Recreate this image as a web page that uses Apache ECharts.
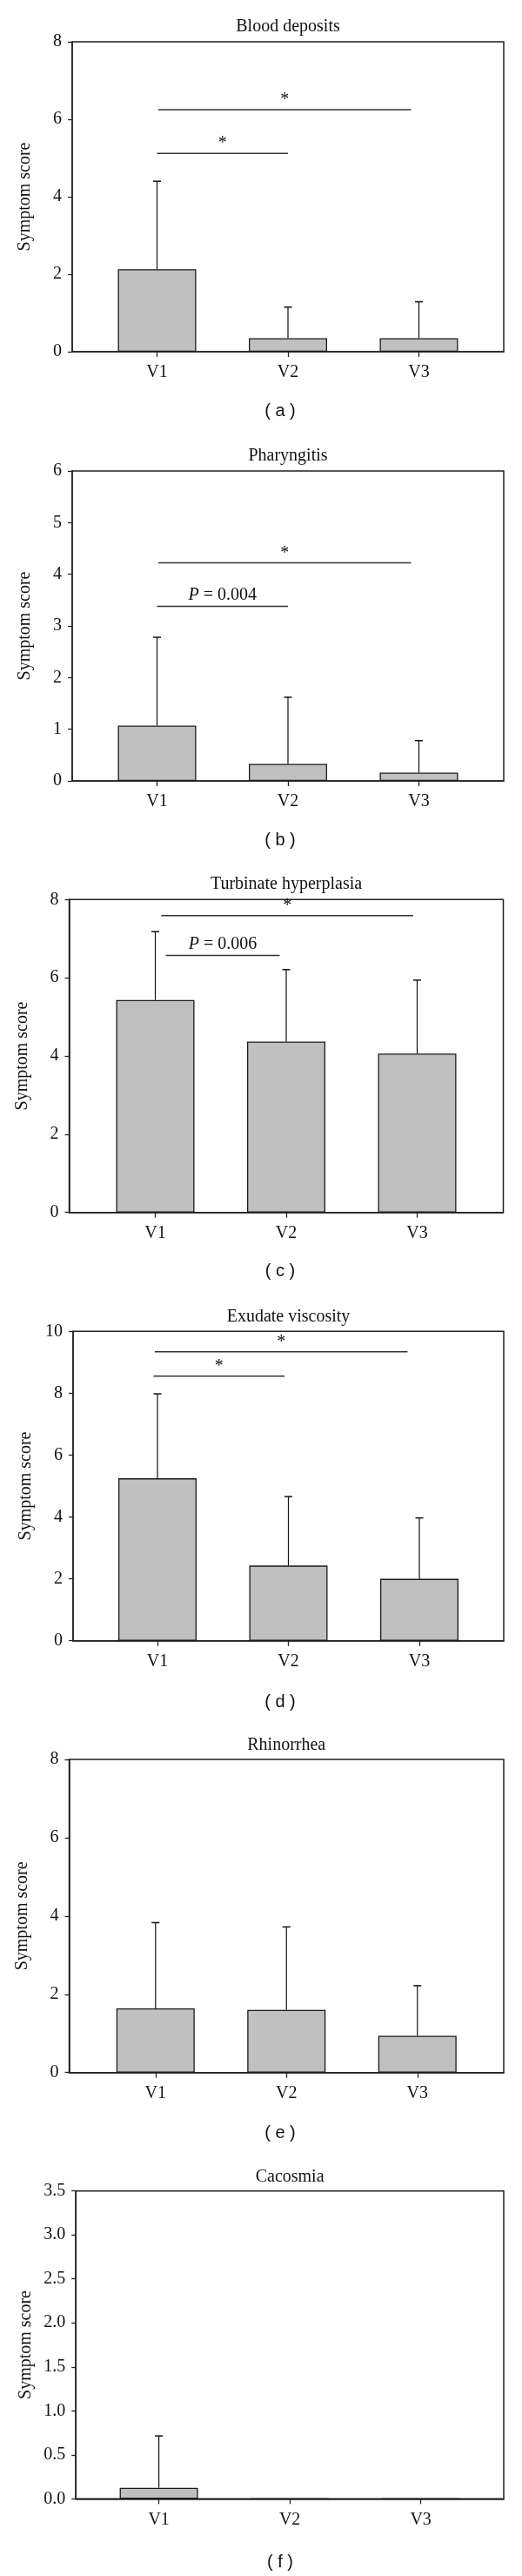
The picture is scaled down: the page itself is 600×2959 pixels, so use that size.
<!DOCTYPE html>
<html><head><meta charset="utf-8">
<script src="https://cdn.jsdelivr.net/npm/echarts@6/dist/echarts.min.js"></script>
<style>html,body{margin:0;padding:0;background:#fff}#c{width:600px;height:2959px}</style>
</head><body><div id="c"></div>
<script>
// ---------- data ----------
const categories = ['V1', 'V2', 'V3'];
const panelTitles = ['Blood deposits', 'Pharyngitis', 'Turbinate hyperplasia', 'Exudate viscosity', 'Rhinorrhea', 'Cacosmia'];
const panelTags = ['( a )', '( b )', '( c )', '( d )', '( e )', '( f )'];
const yAxisName = 'Symptom score';

const bloodMean = [2.13, 0.35, 0.35];
const bloodSD = [2.27, 0.80, 0.94];
const pharyngitisMean = [1.07, 0.33, 0.16];
const pharyngitisSD = [1.71, 1.29, 0.62];
const turbinateMean = [5.43, 4.37, 4.06];
const turbinateSD = [1.75, 1.84, 1.88];
const exudateMean = [5.25, 2.43, 2.00];
const exudateSD = [2.73, 2.23, 1.97];
const rhinorrheaMean = [1.64, 1.60, 0.94];
const rhinorrheaSD = [2.19, 2.12, 1.28];
const cacosmiaMean = [0.125, 0, 0];
const cacosmiaSD = [0.59, 0, 0];

const yMax = [8, 6, 8, 10, 8, 3.5];
const yInterval = [2, 1, 2, 2, 2, 0.5];
const yDecimals = [0, 0, 0, 0, 0, 1];

// significance brackets: [from category pos, to category pos, y level, label]
const bloodSig = [[0.00, 1.00, 5.12, '*'], [0.01, 1.94, 6.25, '*']];
const pharyngitisSig = [[0.00, 1.00, 3.38, 'P = 0.004'], [0.01, 1.94, 4.22, '*']];
const turbinateSig = [[0.08, 0.95, 6.57, 'P = 0.006'], [0.045, 1.97, 7.59, '*']];
const exudateSig = [[-0.03, 0.97, 8.55, '*'], [-0.02, 1.91, 9.34, '*']];
const rhinorrheaSig = [];
const cacosmiaSig = [];

const means = [bloodMean, pharyngitisMean, turbinateMean, exudateMean, rhinorrheaMean, cacosmiaMean];
const sds = [bloodSD, pharyngitisSD, turbinateSD, exudateSD, rhinorrheaSD, cacosmiaSD];
const sigs = [bloodSig, pharyngitisSig, turbinateSig, exudateSig, rhinorrheaSig, cacosmiaSig];

// ---------- layout ----------
const layout = [
  {left: 83,   top: 48,     width: 496,   height: 356,   titleY: 31,     tagY: 472},
  {left: 83,   top: 541,    width: 496,   height: 356,   titleY: 523.5,  tagY: 965},
  {left: 79.5, top: 1033.3, width: 499,   height: 359.4, titleY: 1016,   tagY: 1460},
  {left: 84,   top: 1529.3, width: 495,   height: 355.4, titleY: 1512.7, tagY: 1955},
  {left: 79.5, top: 2021,   width: 499.5, height: 359.7, titleY: 2004.3, tagY: 2450},
  {left: 87.2, top: 2516.7, width: 491.8, height: 353.6, titleY: 2500.7, tagY: 2943}
];
const catSpacing = 150.5;
const SERIF = '"Liberation Serif", "Times New Roman", serif';
const FS = 20;
const INK = '#111';
const AXIS = '#222';

const grids = [], xAxes = [], yAxes = [], series = [], graphics = [];

layout.forEach((L, p) => {
  grids.push({left: L.left, top: L.top, width: L.width, height: L.height,
    show: true, borderColor: AXIS, borderWidth: 1.5, backgroundColor: 'transparent'});
  const half = (L.width / 2) / catSpacing;
  xAxes.push({
    gridIndex: p, type: 'value', min: 1 - half, max: 1 + half,
    axisLine: {show: true, onZero: false, lineStyle: {color: AXIS, width: 1.5}},
    axisTick: {show: true, customValues: [0, 1, 2], length: 6, lineStyle: {color: AXIS, width: 1.3}},
    axisLabel: {show: true, customValues: [0, 1, 2], margin: 14,
      formatter: v => categories[Math.round(v)] || '',
      fontFamily: SERIF, fontSize: FS, color: INK},
    splitLine: {show: false}
  });
  yAxes.push({
    gridIndex: p, type: 'value', min: 0, max: yMax[p], interval: yInterval[p],
    name: yAxisName, nameLocation: 'middle', nameGap: 44,
    nameTextStyle: {fontFamily: SERIF, fontSize: FS, color: INK},
    axisLine: {show: true, onZero: false, lineStyle: {color: AXIS, width: 1.5}},
    axisTick: {show: true, length: 5, lineStyle: {color: AXIS, width: 1.3}},
    axisLabel: {margin: 12, fontFamily: SERIF, fontSize: FS, color: INK,
      formatter: v => v.toFixed(yDecimals[p])},
    splitLine: {show: false}
  });

  series.push({
    type: 'bar', xAxisIndex: p, yAxisIndex: p, barWidth: 90, silent: true,
    data: means[p].map((m, i) => [i, m]),
    itemStyle: {color: '#c0c0c0', borderColor: '#1a1a1a', borderWidth: 1.3}
  });

  const errData = means[p].map((m, i) => [i, m, m + sds[p][i]]).filter((d, i) => sds[p][i] > 0);
  series.push({
    type: 'custom', xAxisIndex: p, yAxisIndex: p, silent: true, z: 3,
    encode: {x: 0, y: [1, 2]},
    data: errData,
    renderItem: (params, api) => {
      const x = api.value(0);
      const b = api.coord([x, api.value(1)]);
      const t = api.coord([x, api.value(2)]);
      return {type: 'group', children: [
        {type: 'line', shape: {x1: b[0], y1: b[1], x2: t[0], y2: t[1]}, style: {stroke: INK, lineWidth: 1.2}},
        {type: 'line', shape: {x1: t[0] - 4.5, y1: t[1], x2: t[0] + 4.5, y2: t[1]}, style: {stroke: INK, lineWidth: 1.5}}
      ]};
    }
  });

  if (sigs[p].length) {
    const sig = sigs[p];
    series.push({
      type: 'custom', xAxisIndex: p, yAxisIndex: p, silent: true, z: 4,
      encode: {x: [0, 1], y: 2},
      data: sig.map(s => [s[0], s[1], s[2]]),
      renderItem: (params, api) => {
        const a = api.coord([api.value(0), api.value(2)]);
        const b = api.coord([api.value(1), api.value(2)]);
        const label = sig[params.dataIndex][3];
        const isStar = label === '*';
        const txt = isStar ? label : label.replace(/^P/, '{i|P}');
        return {type: 'group', children: [
          {type: 'line', shape: {x1: a[0], y1: a[1], x2: b[0], y2: b[1]}, style: {stroke: '#333', lineWidth: 1.5}},
          {type: 'text', x: (a[0] + b[0]) / 2, y: a[1] - (isStar ? 11 : 13),
            style: {text: txt, fontFamily: SERIF, fontSize: FS, fill: INK,
              align: 'center', verticalAlign: 'middle', textAlign: 'center', textVerticalAlign: 'middle',
              rich: {i: {fontStyle: 'italic', fontFamily: SERIF, fontSize: FS, fill: INK}}}}
        ]};
      }
    });
  }

  graphics.push({type: 'text', x: L.left + L.width / 2, y: L.titleY, silent: true,
    style: {text: panelTitles[p], fontFamily: SERIF, fontSize: FS, fill: INK,
      align: 'center', verticalAlign: 'middle', textAlign: 'center', textVerticalAlign: 'middle'}});
  graphics.push({type: 'text', x: 322, y: L.tagY, silent: true,
    style: {text: panelTags[p], fontFamily: '"Liberation Sans", Arial, sans-serif', fontSize: 20, fill: INK,
      align: 'center', verticalAlign: 'middle', textAlign: 'center', textVerticalAlign: 'middle'}});
});

const chart = echarts.init(document.getElementById('c'), null, {renderer: 'canvas'});
chart.setOption({
  animation: false,
  backgroundColor: '#fff',
  grid: grids, xAxis: xAxes, yAxis: yAxes, series: series, graphic: graphics
});
</script></body></html>
